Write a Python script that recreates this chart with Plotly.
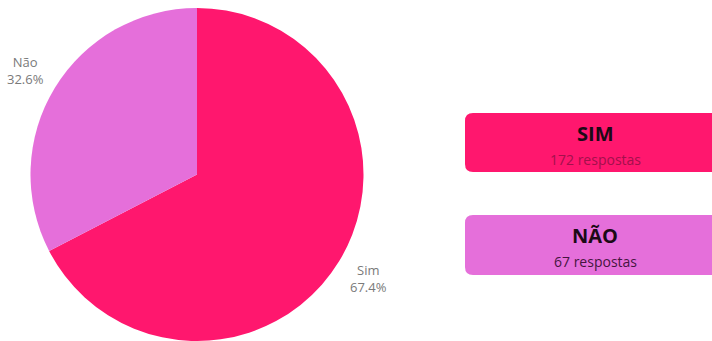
import math
import plotly.graph_objects as go

# Survey results
labels = ["Sim", "Não"]
percentages = [67.4, 32.6]
box_titles = ["SIM", "NÃO"]
responses = [172, 67]

slice_colors = ["#FF176E", "#E56FDA"]
count_colors = ["#A3104C", "#45163F"]

W, H = 712, 341
PIE_CX, PIE_CY, PIE_R = 197, 174.5, 166.5   # px, y measured from top
LABEL_R = 201

fig = go.Figure()

fig.add_trace(go.Pie(
    labels=labels,
    values=percentages,
    sort=False,
    direction="clockwise",
    rotation=0,
    marker=dict(colors=slice_colors, line=dict(width=0)),
    textinfo="none",
    domain=dict(x=[(PIE_CX - PIE_R) / W, (PIE_CX + PIE_R) / W],
                y=[(H - PIE_CY - PIE_R) / H if PIE_CY + PIE_R <= H else 0, (H - PIE_CY + PIE_R) / H]),
    showlegend=False,
    hoverinfo="label+percent",
))

# Outside slice labels, placed along each slice's mid-angle
total = sum(percentages)
start = 0.0
for lab, val in zip(labels, percentages):
    mid = (start + val / 2) / total * 360.0        # degrees clockwise from 12 o'clock
    start += val
    theta = math.radians(90.0 - mid)
    px = PIE_CX + LABEL_R * math.cos(theta)
    py = PIE_CY - LABEL_R * math.sin(theta)
    fig.add_annotation(x=px / W, y=(H - py) / H, xref="paper", yref="paper",
                       xanchor="center", yanchor="middle", showarrow=False,
                       text=f"{lab}<br>{val / total * 100:.1f}%",
                       font=dict(family="Open Sans", size=13, color="#7a7a7a"))


def rounded_box(x0, y0, x1, y1, r):
    """SVG path (paper coords) for a rectangle with rounded corners; y in px from top."""
    rx, ry = r / W, r / H
    X0, X1 = x0 / W, x1 / W
    Yt, Yb = (H - y0) / H, (H - y1) / H
    return (
        f"M {X0 + rx},{Yt} L {X1 - rx},{Yt} Q {X1},{Yt} {X1},{Yt - ry} "
        f"L {X1},{Yb + ry} Q {X1},{Yb} {X1 - rx},{Yb} "
        f"L {X0 + rx},{Yb} Q {X0},{Yb} {X0},{Yb + ry} "
        f"L {X0},{Yt - ry} Q {X0},{Yt} {X0 + rx},{Yt} Z"
    )


boxes = [(113, 172), (215, 275)]
cx = 595
for (top, bottom), title, n, col, ccol in zip(boxes, box_titles, responses, slice_colors, count_colors):
    fig.add_shape(type="path", xref="paper", yref="paper",
                  path=rounded_box(465, top, 722, bottom, 8),
                  fillcolor=col, line=dict(width=0), layer="below")
    fig.add_annotation(x=cx / W, y=(H - (top + 20)) / H, xref="paper", yref="paper",
                       xanchor="center", yanchor="middle",
                       text=f"<b>{title}</b>", showarrow=False,
                       font=dict(family="Open Sans", size=20, color="#1c0a16"))
    fig.add_annotation(x=cx / W, y=(H - (top + 46)) / H, xref="paper", yref="paper",
                       xanchor="center", yanchor="middle",
                       text=f"{n} respostas", showarrow=False,
                       font=dict(family="Open Sans", size=14, color=ccol))

fig.update_layout(
    width=W, height=H,
    margin=dict(l=0, r=0, t=0, b=0),
    paper_bgcolor="white",
    plot_bgcolor="white",
)

fig.write_html("out.html")
